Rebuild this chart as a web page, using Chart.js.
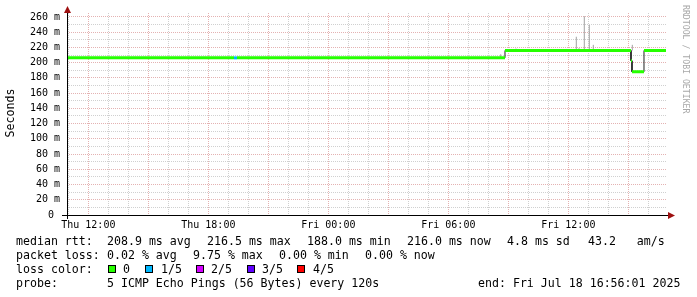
<!DOCTYPE html>
<html><head><meta charset="utf-8">
<script src="https://cdn.jsdelivr.net/npm/chart.js@4"></script>
<style>html,body{margin:0;padding:0;background:#fff;overflow:hidden}#wrap{width:697px;height:297px;position:relative}</style>
</head><body><div id="wrap"><canvas id="c" width="697" height="297"></canvas></div>
<script>
// Time is in hours since Thu 00:00. Graph spans Thu 10:56:01 .. Fri 16:56:01.
const timeStart = 10 + 56/60 + 1/3600;
const timeEnd = timeStart + 30;

// x tick labels (hours since Thu 00:00)
const xTickHours = [12, 18, 24, 30, 36];
const xTickLabels = ["Thu 12:00", "Thu 18:00", "Fri 00:00", "Fri 06:00", "Fri 12:00"];

// y tick labels (ms)
const yTickValues = [0, 20, 40, 60, 80, 100, 120, 140, 160, 180, 200, 220, 240, 260];
const yTickLabels = ["0 ", "20 m", "40 m", "60 m", "80 m", "100 m", "120 m", "140 m", "160 m", "180 m", "200 m", "220 m", "240 m", "260 m"];

// median rtt segments (ms) and their loss bucket
const segStart = [10.934, 19.283, 19.433, 32.833, 39.133, 39.183, 39.783];
const segEnd   = [19.283, 19.433, 32.833, 39.133, 39.183, 39.783, 40.883];
const segValue = [206.3, 206.3, 206.3, 216.0, 202.5, 188.0, 216.0];
const segLoss  = [0, 1, 0, 0, 0, 0, 0];

// smoke (individual ping spread, ms)
const smokeTime = [32.618, 33.383, 35.918, 36.398, 36.533, 36.798, 37.048, 37.248, 39.199];
const smokeLow  = [206.0, 216.0, 216.0, 216.0, 216.0, 216.0, 216.0, 216.0, 216.0];
const smokeHigh = [211.0, 218.5, 218.0, 234.0, 219.0, 261.0, 249.5, 223.4, 223.4];

// loss legend
const lossLabels = ["0", "1/5", "2/5", "3/5", "4/5"];
const lossColors = ["#26ff00", "#00b8ff", "#d400ff", "#6000ff", "#ff0000"];

// statistics text
const medianStats = ["208.9 ms avg", "216.5 ms max", "188.0 ms min", "216.0 ms now", "4.8 ms sd", "43.2   am/s"];
const lossStats = ["0.02 % avg", "9.75 % max", "0.00 % min", "0.00 % now"];
const probeText = "5 ICMP Echo Pings (56 Bytes) every 120s";
const endText = "end: Fri Jul 18 16:56:01 2025";

const MAJOR = '#e4b2b2';
const MINOR = '#d0d0d0';
const MONO = '"DejaVu Sans Mono", monospace';

const blackData = [];
segStart.forEach((s, i) => { blackData.push({x: s, y: segValue[i]}, {x: segEnd[i], y: segValue[i]}); });
const lossData = lossColors.map(() => []);
segStart.forEach((s, i) => {
  lossData[segLoss[i]].push({x: s, y: segValue[i]}, {x: segEnd[i], y: segValue[i]}, {x: segEnd[i], y: null});
});
const smokeData = [];
smokeTime.forEach((t, i) => { smokeData.push({x: t, y: smokeLow[i]}, {x: t, y: smokeHigh[i]}, {x: t, y: null}); });

const datasets = [
  {data: smokeData, borderColor: '#a0a0a0', borderWidth: 1, order: 3},
  {data: blackData, borderColor: '#202020', borderWidth: 1, order: 2},
];
lossData.forEach((d, i) => datasets.push({data: d, borderColor: lossColors[i], borderWidth: 3, order: 1}));
datasets.forEach(d => { d.pointRadius = 0; d.tension = 0; d.fill = false; d.spanGaps = false; });

const decor = {
  id: 'decor',
  afterDraw(chart) {
    const ctx = chart.ctx, a = chart.chartArea;
    ctx.save();
    // axes
    ctx.strokeStyle = '#000'; ctx.lineWidth = 1;
    ctx.beginPath();
    ctx.moveTo(62, a.bottom + 0.5); ctx.lineTo(670, a.bottom + 0.5);
    ctx.moveTo(a.left + 0.5, a.bottom + 4); ctx.lineTo(a.left + 0.5, 11);
    ctx.stroke();
    ctx.fillStyle = '#9e1010';
    ctx.beginPath(); ctx.moveTo(668, a.bottom - 3); ctx.lineTo(675, a.bottom + 0.5); ctx.lineTo(668, a.bottom + 4); ctx.closePath(); ctx.fill();
    ctx.beginPath(); ctx.moveTo(a.left - 3, 13); ctx.lineTo(a.left + 0.5, 6); ctx.lineTo(a.left + 4, 13); ctx.closePath(); ctx.fill();

    // y title
    ctx.fillStyle = '#000';
    ctx.font = '11.6px ' + MONO;
    ctx.save();
    ctx.translate(14, 113); ctx.rotate(-Math.PI / 2);
    ctx.textAlign = 'center'; ctx.textBaseline = 'alphabetic';
    ctx.fillText('Seconds', 0, 0);
    ctx.restore();

    // watermark
    ctx.save();
    ctx.fillStyle = '#a8a8a8';
    ctx.font = '8.2px ' + MONO;
    ctx.translate(683, 5); ctx.rotate(Math.PI / 2);
    ctx.textAlign = 'left'; ctx.textBaseline = 'alphabetic';
    ctx.fillText('RRDTOOL / TOBI OETIKER', 0, 0);
    ctx.restore();

    // legend
    ctx.font = '11.6px ' + MONO;
    ctx.textAlign = 'left'; ctx.textBaseline = 'alphabetic';
    ctx.fillStyle = '#000';
    ctx.fillText('median rtt:', 16, 245);
    const mX = [107, 207, 307, 407, 507, 588];
    medianStats.forEach((t, i) => ctx.fillText(t, mX[i], 245));
    ctx.fillText('packet loss:', 16, 259);
    const lX = [107, 193, 279, 365];
    lossStats.forEach((t, i) => ctx.fillText(t, lX[i], 259));
    ctx.fillText('loss color:', 16, 273);
    const bX = [108, 145, 196, 247, 297];
    const tX = [123, 161, 211, 262, 313];
    lossLabels.forEach((t, i) => {
      ctx.fillStyle = lossColors[i];
      ctx.fillRect(bX[i], 265, 8, 8);
      ctx.strokeStyle = '#000';
      ctx.strokeRect(bX[i] + 0.5, 265.5, 7, 7);
      ctx.fillStyle = '#000';
      ctx.fillText(t, tX[i], 273);
    });
    ctx.fillText('probe:', 16, 287);
    ctx.fillText(probeText, 107, 287);
    ctx.fillText(endText, 478, 287);
    ctx.restore();
  }
};

new Chart(document.getElementById('c'), {
  type: 'line',
  data: {datasets},
  plugins: [decor],
  options: {
    responsive: false,
    animation: false,
    events: [],
    layout: {padding: {top: 12, right: 30, left: 0, bottom: 0}},
    plugins: {legend: {display: false}, tooltip: {enabled: false}},
    scales: {
      x: {
        type: 'linear', min: timeStart, max: timeEnd,
        afterBuildTicks: s => { const t = []; for (let h = 11; h <= 40; h++) t.push({value: h}); s.ticks = t; },
        afterFit: s => { s.height = 82; },
        ticks: {
          autoSkip: false, maxRotation: 0, padding: 4, color: '#000',
          font: {family: 'DejaVu Sans Mono', size: 10},
          callback: v => { const i = xTickHours.indexOf(v); return i >= 0 ? xTickLabels[i] : ''; }
        },
        grid: {drawTicks: false, lineWidth: 1, color: c => (c.tick && c.tick.value % 3 === 0) ? MAJOR : MINOR},
        border: {display: false, dash: [1, 1]}
      },
      y: {
        type: 'linear', min: 0, max: 265.2,
        afterBuildTicks: s => { const t = []; for (let v = 0; v <= 260; v += 10) t.push({value: v}); s.ticks = t; },
        afterFit: s => { s.width = 67; },
        ticks: {
          autoSkip: false, padding: 7, color: '#000',
          font: {family: 'DejaVu Sans Mono', size: 10},
          callback: v => { const i = yTickValues.indexOf(v); return i >= 0 ? yTickLabels[i] : ''; }
        },
        grid: {drawTicks: false, lineWidth: 1, color: c => (c.tick && c.tick.value % 20 === 0) ? MAJOR : MINOR},
        border: {display: false, dash: [1, 1]}
      }
    }
  }
});
</script>
</body></html>
